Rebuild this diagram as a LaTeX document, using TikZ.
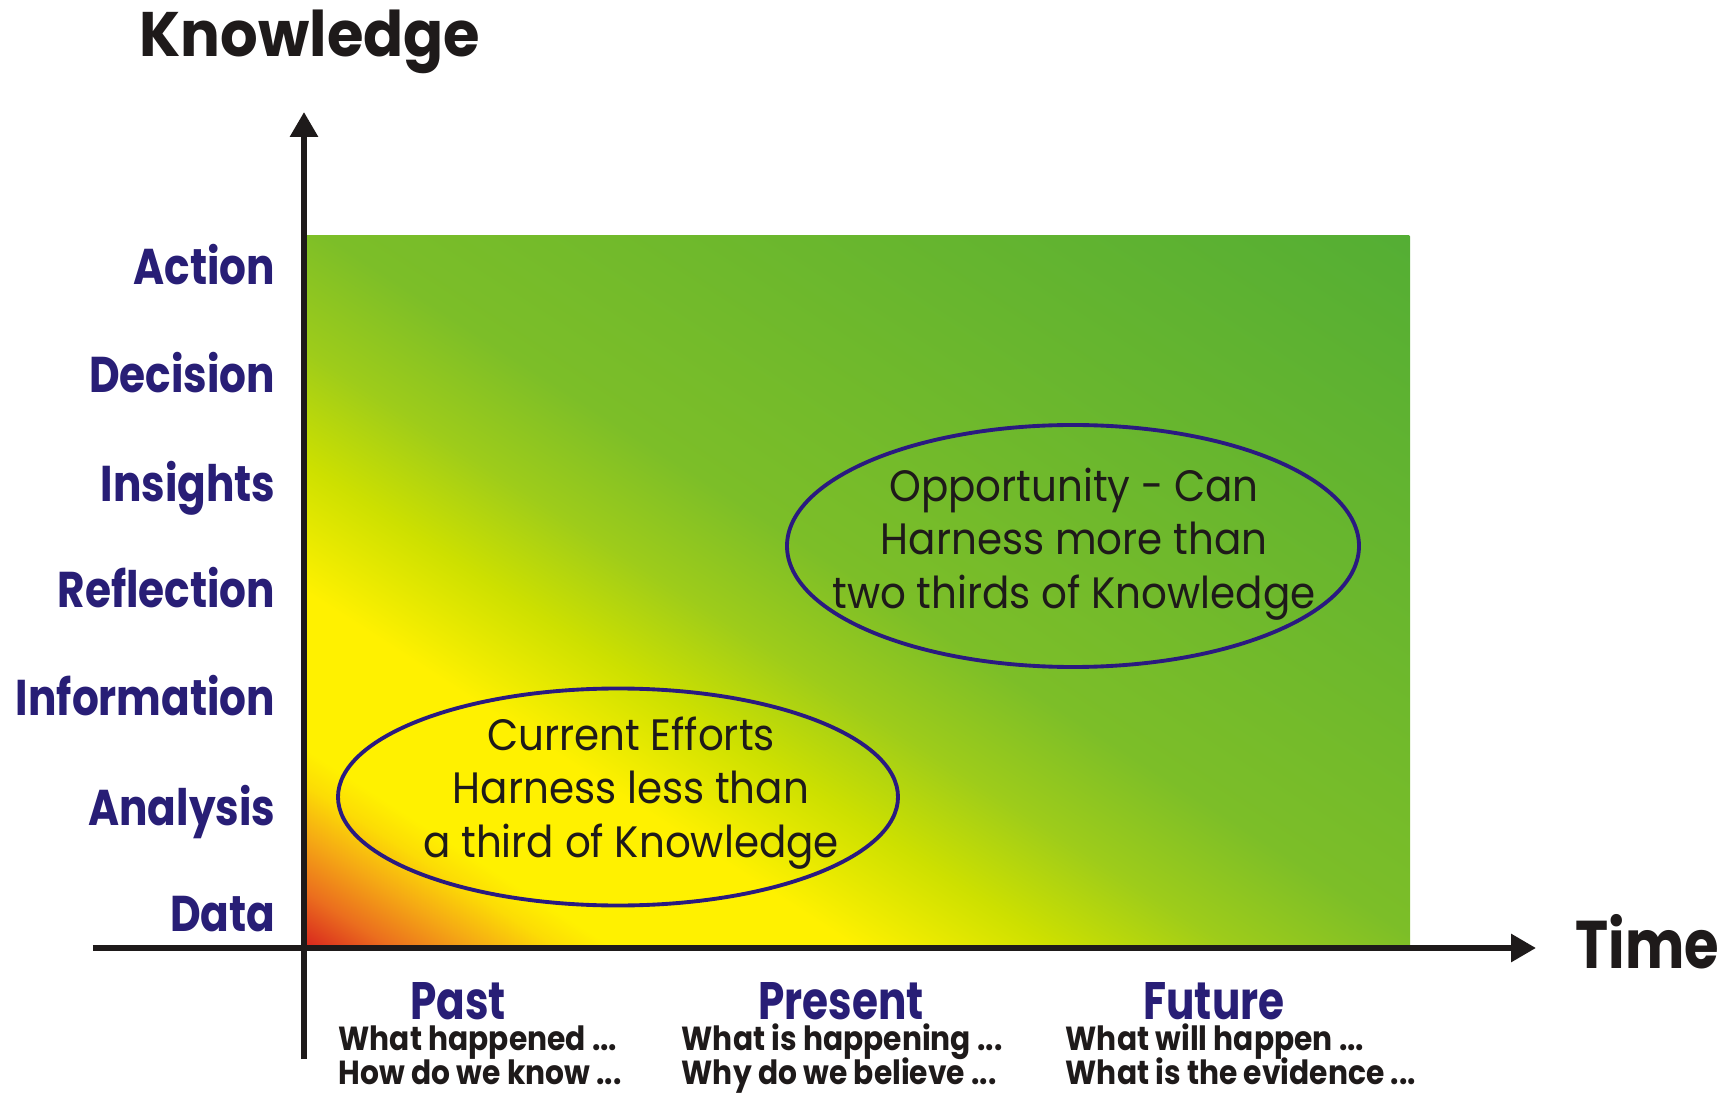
\documentclass[tikz,border=0pt]{standalone}
\usepackage{fontspec}
\usetikzlibrary{shapes.geometric, arrows.meta, positioning}
\setmainfont{Poppins}
\newfontfamily\axisfont{Poppins}[FakeStretch=0.94]
\newfontfamily\timefont{Poppins}[FakeStretch=0.83]
\newfontfamily\levelfont{Poppins}[FakeStretch=0.84]
\newfontfamily\erafont{Poppins}[FakeStretch=0.80]
\newfontfamily\notefont{Poppins}[FakeStretch=0.89]
\newfontfamily\ovalfont{Poppins}[FakeStretch=0.92]
\newcommand\tightlines{\lineskiplimit=-6pt\relax}
\definecolor{levelcolor}{RGB}{40, 30, 118}
\definecolor{inkcolor}{RGB}{30, 26, 26}
\definecolor{ovalcolor}{RGB}{42, 26, 128}
\definecolor{gradred}{RGB}{215, 35, 30}
\definecolor{gradorange}{RGB}{235, 110, 30}
\definecolor{gradtan}{RGB}{245, 170, 20}
\definecolor{gradamber}{RGB}{252, 220, 5}
\definecolor{gradyellow}{RGB}{255, 241, 0}
\definecolor{gradlime}{RGB}{205, 224, 0}
\definecolor{gradleaf}{RGB}{158, 204, 26}
\definecolor{gradgreen}{RGB}{124, 190, 40}
\definecolor{gradmoss}{RGB}{104, 182, 46}
\definecolor{graddeep}{RGB}{84, 174, 52}
% left edge of the path is 25bp, right edge 75bp
\pgfdeclarehorizontalshading{knowshade}{100bp}{
    color(0bp)=(gradred);
    color(25bp)=(gradred);
    color(27bp)=(gradorange);
    color(29bp)=(gradtan);
    color(30.75bp)=(gradamber);
    color(32bp)=(gradyellow);
    color(37.5bp)=(gradyellow);
    color(42bp)=(gradlime);
    color(46bp)=(gradleaf);
    color(50.5bp)=(gradgreen);
    color(62.5bp)=(gradmoss);
    color(75bp)=(graddeep);
    color(100bp)=(graddeep)
}
\tikzstyle{axistitle} = [
    anchor=base west,
    inner sep=0pt,
    text=inkcolor
]
\tikzstyle{levellabel} = [
    anchor=base east,
    inner sep=0pt,
    font=\levelfont\bfseries\fontsize{14.3}{16}\selectfont,
    text=levelcolor
]
\tikzstyle{eralabel} = [
    anchor=base,
    inner sep=0pt,
    font=\erafont\bfseries\fontsize{15}{16}\selectfont,
    text=levelcolor
]
\tikzstyle{eranote} = [
    anchor=base west,
    inner sep=0pt,
    align=left,
    font={\notefont\bfseries\fontsize{9.5}{9.4}\selectfont\tightlines},
    text=inkcolor
]
\tikzstyle{oval} = [
    ellipse,
    draw=ovalcolor,
    line width=1.1pt,
    inner sep=0pt
]
\tikzstyle{ovaltext} = [
    align=center,
    inner sep=0pt,
    font=\ovalfont\fontsize{12.5}{15.2}\selectfont,
    text=inkcolor
]
\tikzstyle{axisarrow} = [
    -{Triangle[length=0.25cm, width=0.27cm]},
    line width=1.7pt,
    color=inkcolor
]

\begin{document}
\begin{tikzpicture}
\useasboundingbox (-3.04, -1.46) rectangle (14.26, 9.48);

% Knowledge field (diagonal gradient, clipped to the field)
\begin{scope}
\clip (0.01, 0) rectangle (11.06, 7.12);
\begin{scope}[transform canvas={shift={(0.01, 0)}, xscale=11.05, yscale=7.12, rotate=45}]
\shade[shading=knowshade] (0, -0.7071) rectangle (1.4142, 0.7071);
\end{scope}
\end{scope}

% Axes
\coordinate (origin) at (0, 0);
\coordinate (ktop) at (0, 8.36);
\coordinate (kfoot) at (0, -1.11);
\coordinate (tstart) at (-2.11, 0);
\coordinate (tend) at (12.32, 0);
\draw[axisarrow] (kfoot) -- (ktop);
\draw[axisarrow] (tstart) -- (tend);

% Axis titles
\node[axistitle, font=\axisfont\bfseries\fontsize{17.9}{20}\selectfont] (knowledge) at (-1.65, 8.91) {Knowledge};
\node[axistitle, font=\timefont\bfseries\fontsize{19.2}{21}\selectfont] (time) at (12.71, -0.20) {Time};

% Levels of knowledge
\node[levellabel] (data) at (-0.28, 0.17) {Data};
\node[levellabel] (analysis) at (-0.28, 1.23) {Analysis};
\node[levellabel] (information) at (-0.28, 2.32) {Information};
\node[levellabel] (reflection) at (-0.28, 3.40) {Reflection};
\node[levellabel] (insights) at (-0.28, 4.46) {Insights};
\node[levellabel] (decision) at (-0.28, 5.55) {Decision};
\node[levellabel] (action) at (-0.28, 6.63) {Action};

% Past, present, future
\node[eralabel] (past) at (1.54, -0.71) {Past};
\node[eralabel] (present) at (5.37, -0.71) {Present};
\node[eralabel] (future) at (9.10, -0.71) {Future};

% base of a two-line note is its last line
\node[eranote] (pastnote) at (0.34, -1.36) {What happened ...\\How do we know ...};
\node[eranote] (presentnote) at (3.77, -1.36) {What is happening ...\\Why do we believe ...};
\node[eranote] (futurenote) at (7.61, -1.36) {What will happen ...\\What is the evidence ...};

% Current efforts
\node[oval, minimum width=5.6cm, minimum height=2.17cm] (current) at (3.14, 1.51) {};
\node[ovaltext] (currenttext) at (3.27, 1.55) {Current Efforts\\Harness less than\\a third of Knowledge};

% Opportunity
\node[oval, minimum width=5.72cm, minimum height=2.42cm] (opportunity) at (7.69, 4.02) {};
\node[ovaltext] (opportunitytext) at (7.70, 4.04) {Opportunity - Can\\Harness more than\\two thirds of Knowledge};

\end{tikzpicture}
\end{document}
